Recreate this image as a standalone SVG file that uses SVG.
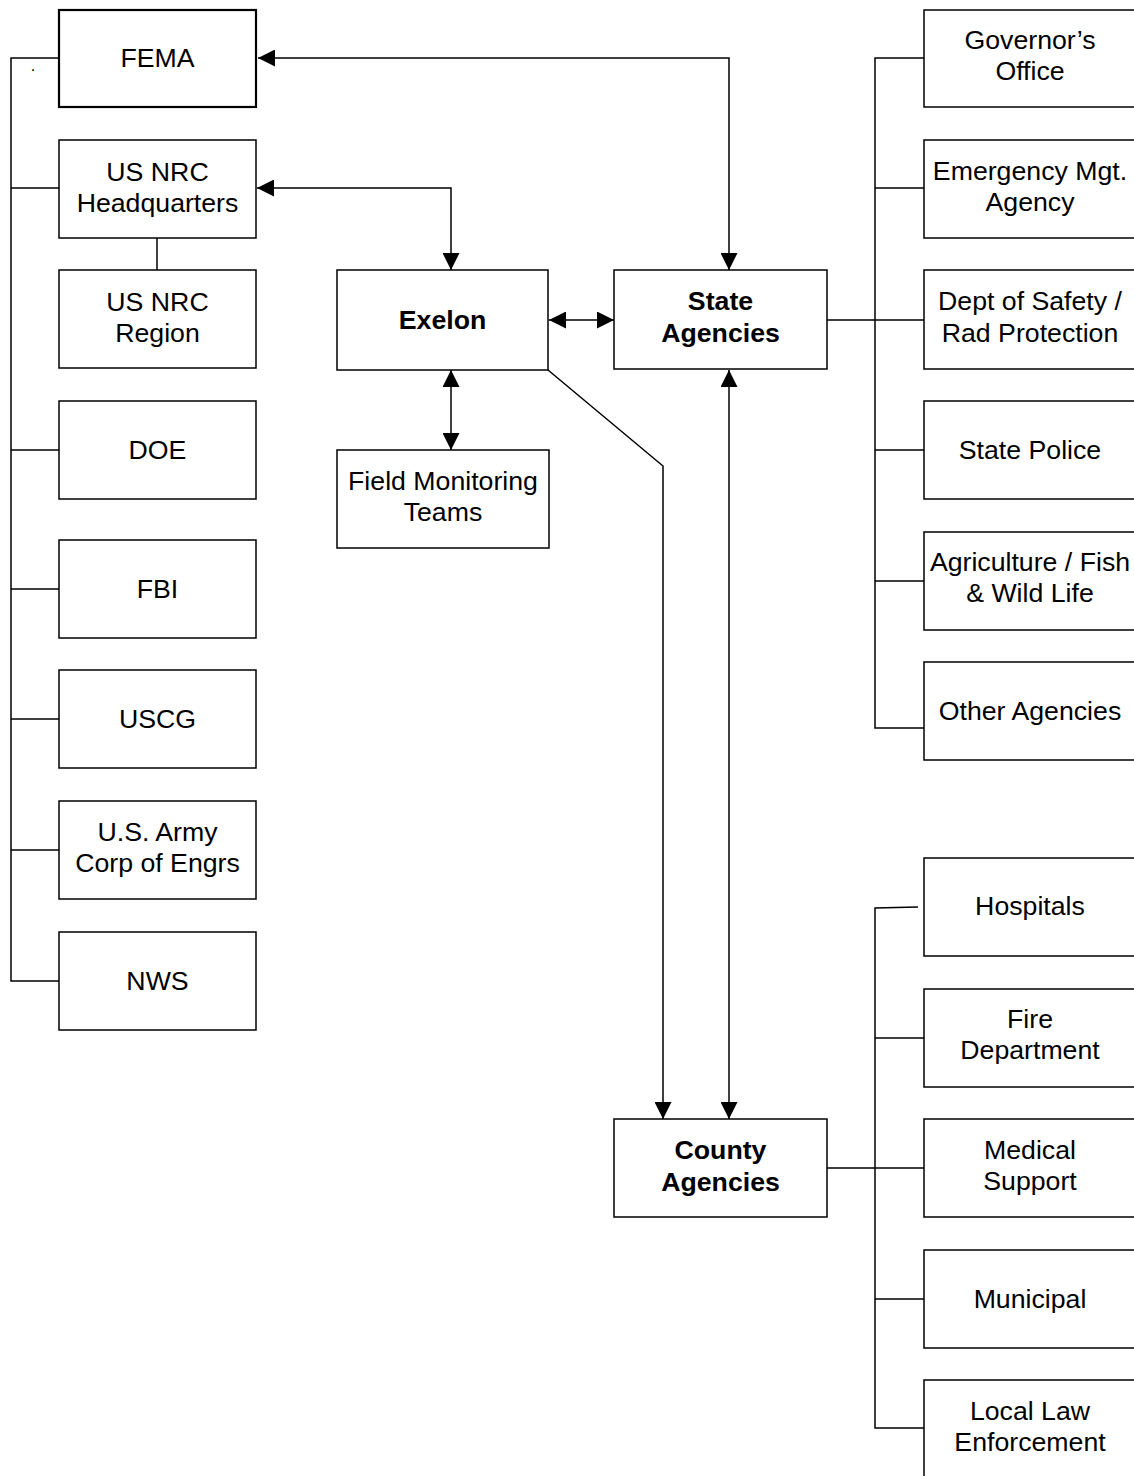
<svg xmlns="http://www.w3.org/2000/svg" width="1134" height="1476" viewBox="0 0 1134 1476">
<style>
.box{fill:#fff;stroke:#000;stroke-width:1.5}
.thick{stroke-width:2.2}
.t{font-family:"Liberation Sans",Arial,sans-serif;font-size:26.7px;text-anchor:middle;fill:#000}
.b{font-weight:bold}
.ln{fill:none;stroke:#000;stroke-width:1.5}
</style>
<defs>
<marker id="ah" markerUnits="userSpaceOnUse" markerWidth="17" markerHeight="17" refX="17" refY="8.5" orient="auto-start-reverse" viewBox="0 0 17 17">
<path d="M0,0 L17,8.5 L0,17 z" fill="#000"/>
</marker>
</defs>
<rect x="0" y="0" width="1134" height="1476" fill="#fff"/>
<g id="connectors">
<path class="ln" d="M729,270 V58 H258" marker-start="url(#ah)" marker-end="url(#ah)"/>
<path class="ln" d="M451,270 V188 H257" marker-start="url(#ah)" marker-end="url(#ah)"/>
<path class="ln" d="M549,320 H614" marker-start="url(#ah)" marker-end="url(#ah)"/>
<path class="ln" d="M451,370 V450" marker-start="url(#ah)" marker-end="url(#ah)"/>
<path class="ln" d="M548,370 L663,466 V1119" marker-end="url(#ah)"/>
<path class="ln" d="M729,370 V1119" marker-start="url(#ah)" marker-end="url(#ah)"/>
<path class="ln" d="M157,238 V270"/>
<path class="ln" d="M59,58 H11 V981 H59 M11,188 H59 M11,450 H59 M11,589 H59 M11,719 H59 M11,850 H59"/>
<path class="ln" d="M827,320 H924 M928,58 H875 V728 H924 M875,188 H928 M875,450 H924 M875,581 H924"/>
<path class="ln" d="M918,907 L875,908 V1428 H924 M827,1168 H924 M875,1038 H924 M875,1299 H924"/>
</g>
<text class="t" x="33" y="71" style="font-size:16px">.</text>
<g id="fema"><rect class="box thick" x="59" y="10" width="197" height="97"/><text class="t" x="157.5" y="67">FEMA</text></g>
<g id="nrc-hq"><rect class="box" x="59" y="140" width="197" height="98"/><text class="t" x="157.5" y="180.5">US NRC</text><text class="t" x="157.5" y="211.5">Headquarters</text></g>
<g id="nrc-region"><rect class="box" x="59" y="270" width="197" height="98"/><text class="t" x="157.5" y="310.5">US NRC</text><text class="t" x="157.5" y="341.5">Region</text></g>
<g id="doe"><rect class="box" x="59" y="401" width="197" height="98"/><text class="t" x="157.5" y="459">DOE</text></g>
<g id="fbi"><rect class="box" x="59" y="540" width="197" height="98"/><text class="t" x="157.5" y="598">FBI</text></g>
<g id="uscg"><rect class="box" x="59" y="670" width="197" height="98"/><text class="t" x="157.5" y="728">USCG</text></g>
<g id="army"><rect class="box" x="59" y="801" width="197" height="98"/><text class="t" x="157.5" y="841">U.S. Army</text><text class="t" x="157.5" y="872">Corp of Engrs</text></g>
<g id="nws"><rect class="box" x="59" y="932" width="197" height="98"/><text class="t" x="157.5" y="990">NWS</text></g>
<g id="exelon"><rect class="box" x="337" y="270" width="211" height="100"/><text class="t b" x="442.5" y="329">Exelon</text></g>
<g id="field"><rect class="box" x="337" y="450" width="212" height="98"/><text class="t" x="443" y="490">Field Monitoring</text><text class="t" x="443" y="521">Teams</text></g>
<g id="state"><rect class="box" x="614" y="270" width="213" height="99"/><text class="t b" x="720.5" y="310">State</text><text class="t b" x="720.5" y="342">Agencies</text></g>
<g id="county"><rect class="box" x="614" y="1119" width="213" height="98"/><text class="t b" x="720.5" y="1159">County</text><text class="t b" x="720.5" y="1191">Agencies</text></g>
<g id="governor"><rect class="box" x="924" y="10" width="216" height="97"/><text class="t" x="1030" y="49">Governor’s</text><text class="t" x="1030" y="80">Office</text></g>
<g id="ema"><rect class="box" x="924" y="140" width="216" height="98"/><text class="t" x="1030" y="180">Emergency Mgt.</text><text class="t" x="1030" y="211">Agency</text></g>
<g id="safety"><rect class="box" x="924" y="270" width="216" height="99"/><text class="t" x="1030" y="309.5">Dept of Safety /</text><text class="t" x="1030" y="341.5">Rad Protection</text></g>
<g id="police"><rect class="box" x="924" y="401" width="216" height="98"/><text class="t" x="1030" y="459">State Police</text></g>
<g id="agri"><rect class="box" x="924" y="532" width="216" height="98"/><text class="t" x="1030" y="571">Agriculture / Fish</text><text class="t" x="1030" y="602">&amp; Wild Life</text></g>
<g id="other"><rect class="box" x="924" y="662" width="216" height="98"/><text class="t" x="1030" y="720">Other Agencies</text></g>
<g id="hospitals"><rect class="box" x="924" y="858" width="216" height="98"/><text class="t" x="1030" y="915">Hospitals</text></g>
<g id="fire"><rect class="box" x="924" y="989" width="216" height="98"/><text class="t" x="1030" y="1028">Fire</text><text class="t" x="1030" y="1059">Department</text></g>
<g id="medical"><rect class="box" x="924" y="1119" width="216" height="98"/><text class="t" x="1030" y="1159">Medical</text><text class="t" x="1030" y="1190">Support</text></g>
<g id="municipal"><rect class="box" x="924" y="1250" width="216" height="98"/><text class="t" x="1030" y="1308">Municipal</text></g>
<g id="law"><rect class="box" x="924" y="1380" width="216" height="110"/><text class="t" x="1030" y="1420">Local Law</text><text class="t" x="1030" y="1451">Enforcement</text></g>
</svg>
